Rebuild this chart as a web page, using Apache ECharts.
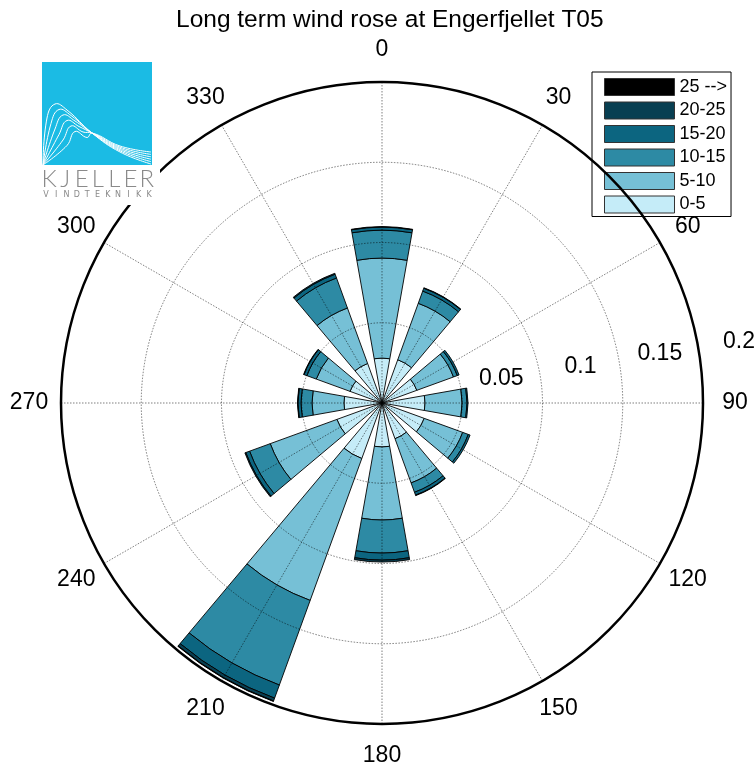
<!DOCTYPE html>
<html><head><meta charset="utf-8">
<script src="https://cdn.jsdelivr.net/npm/echarts@6/dist/echarts.min.js"></script>
<style>html,body{margin:0;padding:0;background:#fff}#c{width:755px;height:771px}</style>
</head><body><div id="c"></div>
<script>
// ---- data ----
const directions = ['0','30','60','90','120','150','180','210','240','270','300','330'];
const speedBins = ['0-5','5-10','10-15','15-20','20-25','25 -->'];
const legendOrder = ['25 -->','20-25','15-20','10-15','5-10','0-5'];
const v0_5   = [0.0280,0.0287,0.0231,0.0268,0.0280,0.0237,0.0274,0.0368,0.0299,0.0237,0.0212,0.0262];
const v5_10  = [0.0623,0.0374,0.0243,0.0231,0.0255,0.0293,0.0455,0.0941,0.0442,0.0199,0.0224,0.0368];
const v10_15 = [0.0174,0.0081,0.0025,0.0031,0.0037,0.0062,0.0206,0.0561,0.0137,0.0069,0.0062,0.0199];
const v15_20 = [0.0019,0.0019,0.0012,0.0006,0.0012,0.0019,0.0044,0.0087,0.0025,0.0019,0.0019,0.0025];
const v20_25 = [0.0003,0.0003,0,0,0,0.0003,0.0012,0.0019,0.0006,0.0003,0.0003,0.0006];
const v25up  = [0,0,0,0,0,0,0,0.0003,0,0,0,0];
const radiusMax = 0.2;
const radiusStep = 0.05;
const angleStep = 30;

// ---- style ----
const FONT = "'Liberation Sans', Arial, sans-serif";
const colors = ['#c5ecf8','#76c0d6','#2d8aa4','#0c6580','#083f52','#000000'];
const seriesValues = [v0_5, v5_10, v10_15, v15_20, v20_25, v25up];
const CX = 382, CY = 403, R = 321;
const gridLine = { color: 'rgba(0,0,0,0.5)', type: [1.5, 1.5], width: 1 };

// angle-label placement: labels centred on a circle of radius LABEL_R (outside the plot circle)
const LABEL_R = 353, LABEL_MARGIN = -10, LABEL_FS = 23;
const labelRich = {};
function angleLabelKey(v) { return 'a' + v; }
for (let a = 0; a < 360; a += angleStep) {
  const rad = a * Math.PI / 180;
  const sx = Math.sin(rad), sy = -Math.cos(rad);
  const d = LABEL_R - (R + LABEL_MARGIN);
  const w = String(a).length * LABEL_FS * 0.556, h = LABEL_FS;
  const px = Math.abs((R + LABEL_MARGIN) * sx) / R, py = Math.abs((R + LABEL_MARGIN) * sy) / R;
  let pl = 0, pr = 0, pt = 0, pb = 0;
  if (px >= 0.3) { if (sx > 0) pl = d * sx - w / 2; else pr = -d * sx - w / 2; }
  if (py >= 0.3) { if (sy > 0) pt = d * sy - h / 2; else pb = -d * sy - h / 2; }
  labelRich[angleLabelKey(a)] = {
    padding: [Math.max(0, pt), Math.max(0, pr), Math.max(0, pb), Math.max(0, pl)],
    fontFamily: FONT, fontSize: LABEL_FS, color: '#000'
  };
}

const series = speedBins.map((name, i) => ({
  name: name,
  type: 'bar',
  coordinateSystem: 'polar',
  polarIndex: 0,
  stack: 'wind',
  barWidth: '66.7%',
  data: seriesValues[i].map(v => v === 0 ? '-' : v),
  itemStyle: { color: colors[i], borderColor: '#000', borderWidth: 0.9 },
  emphasis: { disabled: true },
  z: 1
}));

// logo curves
const logoCurves = [];
for (let i = 0; i < 6; i++) {
  const px = 55 + i * 4, py = 104 + i * 5.5;
  logoCurves.push({
    type: 'polyline',
    shape: { points: [[43, 165], [px - 8, py + 14], [px, py], [px + 12, py + 6], [92, 133], [120, 146 + (5 - i) * 1.2], [151, 152 + (5 - i) * 2.4]], smooth: 0.45 },
    style: { stroke: '#ffffff', lineWidth: 1, fill: null },
    z: 102
  });
}
const kLetters = 'KJELLER'.split('');
const vLetters = 'VINDTEKNIKK'.split('');
const logoText = [];
kLetters.forEach((ch, i) => logoText.push({
  type: 'text', z: 103,
  style: { text: ch, x: 49 + i * 16.3, y: 179, align: 'center', verticalAlign: 'middle', fill: '#8a8a8a', font: "300 24px Lato, 'DejaVu Sans', sans-serif" }
}));
vLetters.forEach((ch, i) => logoText.push({
  type: 'text', z: 103,
  style: { text: ch, x: 46 + i * 10.3, y: 195, align: 'center', verticalAlign: 'middle', fill: '#8a8a8a', font: "8px 'DejaVu Sans', sans-serif" }
}));

const option = {
  backgroundColor: '#fff',
  animation: false,
  title: {
    text: 'Long term wind rose at Engerfjellet T05',
    left: 171, top: 3,
    textStyle: { fontFamily: FONT, fontSize: 24.5, fontWeight: 'normal', color: '#000' }
  },
  legend: {
    orient: 'vertical',
    left: 592, top: 72,
    data: legendOrder,
    itemWidth: 70, itemHeight: 17, itemGap: 5.5,
    padding: [6, 4, 3, 12],
    borderColor: '#000', borderWidth: 1,
    backgroundColor: '#fff',
    textStyle: { fontFamily: FONT, fontSize: 18, color: '#000', lineHeight: 17, width: 36, overflow: 'none' },
    icon: 'rect',
    itemStyle: { borderColor: '#333', borderWidth: 1 },
    selectedMode: false,
    z: 10
  },
  polar: [
    { center: [CX, CY], radius: R },
    { center: [CX, CY], radius: R },
    { center: [CX, CY], radius: R }
  ],
  angleAxis: [
    { polarIndex: 0, type: 'category', data: directions, startAngle: 90 + angleStep / 2, clockwise: true,
      axisLine: { show: false }, axisTick: { show: false }, axisLabel: { show: false }, splitLine: { show: false } },
    { polarIndex: 1, type: 'value', min: 0, max: 360, interval: angleStep, startAngle: 90, clockwise: true, z: 10,
      axisLine: { lineStyle: { color: '#000', width: 2.5 } },
      axisTick: { show: false },
      axisLabel: { margin: LABEL_MARGIN, color: '#000', fontFamily: FONT, fontSize: LABEL_FS,
        formatter: v => v >= 360 ? '' : '{' + angleLabelKey(v) + '|' + v + '}', rich: labelRich },
      splitLine: { lineStyle: gridLine } },
    { polarIndex: 2, type: 'value', min: 0, max: 360, startAngle: 9, clockwise: false,
      axisLine: { show: false }, axisTick: { show: false }, axisLabel: { show: false }, splitLine: { show: false } }
  ],
  radiusAxis: [
    { polarIndex: 0, type: 'value', min: 0, max: radiusMax,
      axisLine: { show: false }, axisTick: { show: false }, axisLabel: { show: false }, splitLine: { show: false } },
    { polarIndex: 1, type: 'value', min: 0, max: radiusMax, interval: radiusStep, z: 10,
      axisLine: { show: false }, axisTick: { show: false }, axisLabel: { show: false },
      splitLine: { lineStyle: gridLine } },
    { polarIndex: 2, type: 'value', min: 0, max: radiusMax, interval: radiusStep, z: 10,
      axisLine: { show: false }, axisTick: { show: false }, splitLine: { show: false },
      axisLabel: { margin: 0, color: '#000', fontFamily: FONT, fontSize: 23, align: 'center', verticalAlign: 'bottom',
        padding: [0, 0, 0, 80], formatter: v => v === 0 ? '' : String(+v.toFixed(2)) } }
  ],
  series: series,
  graphic: [
    { type: 'rect', z: 100, shape: { x: 30, y: 57, width: 130, height: 148 }, style: { fill: '#fff' } },
    { type: 'rect', z: 101, shape: { x: 42, y: 62, width: 110, height: 103 }, style: { fill: '#1bbbe4' } }
  ].concat(logoCurves).concat(logoText)
};

const chart = echarts.init(document.getElementById('c'), null, { renderer: 'canvas' });
chart.setOption(option);
</script>
</body></html>
